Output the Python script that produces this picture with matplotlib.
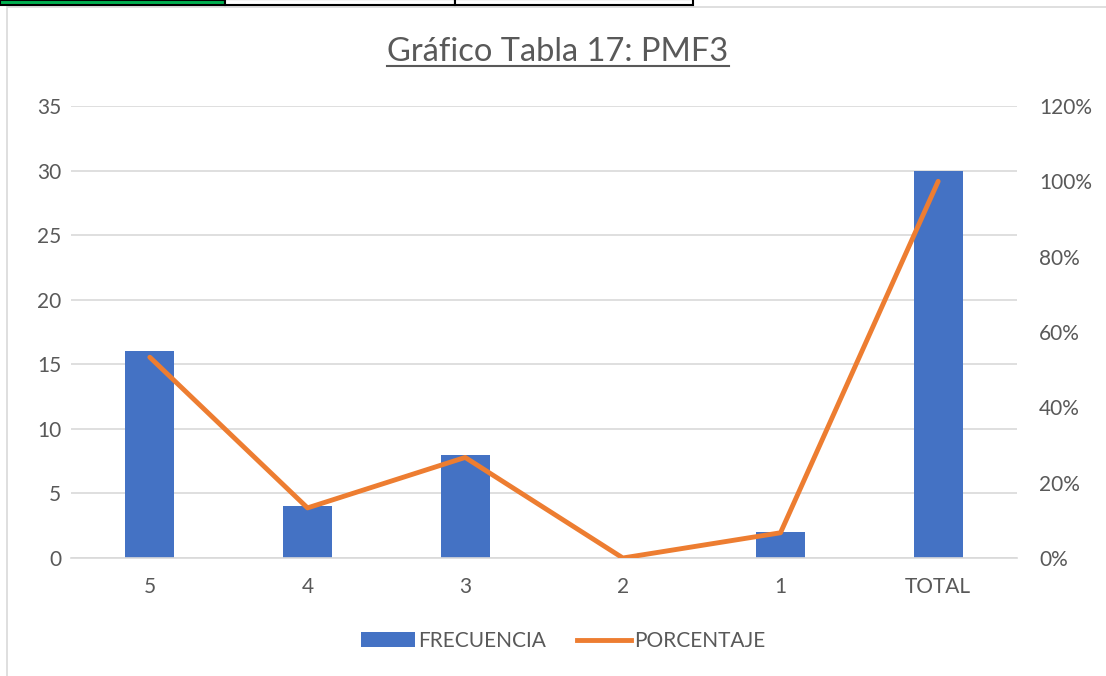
import matplotlib.pyplot as plt
from matplotlib.lines import Line2D
from matplotlib.patches import Rectangle, Patch
from matplotlib.ticker import FuncFormatter, MultipleLocator

categories = ["5", "4", "3", "2", "1", "TOTAL"]
frecuencia = [16, 4, 8, 0, 2, 30]
porcentaje = [0.533, 0.133, 0.267, 0.0, 0.067, 1.0]

title = "Gráfico Tabla 17: PMF3"
bar_color = "#4472C4"
line_color = "#ED7D31"
text_color = "#595959"
grid_color = "#D9D9D9"

plt.rcParams["font.family"] = ["Lato", "DejaVu Sans"]

fig = plt.figure(figsize=(11.06, 6.76), dpi=100)
W, H = 1106, 676

# chart frame and spreadsheet cells behind it
fig.patches.append(Rectangle((7 / W, -0.01), 1.2, (H - 7) / H + 0.01, transform=fig.transFigure,
                             fill=False, edgecolor="#D9D9D9", linewidth=1.2))
fig.patches.append(Rectangle((0, (H - 5) / H), 225 / W, 5 / H, transform=fig.transFigure,
                             facecolor="#00B050", edgecolor="black", linewidth=1.5))
for x0, x1 in [(225, 455), (455, 693)]:
    fig.patches.append(Rectangle((x0 / W, (H - 5) / H), (x1 - x0) / W, 6 / H, transform=fig.transFigure,
                                 facecolor="white", edgecolor="black", linewidth=1.5))

ax = fig.add_axes([71 / W, (H - 558) / H, (1017 - 71) / W, (558 - 106) / H])
ax2 = ax.twinx()

x = list(range(len(categories)))
ax.bar(x, frecuencia, width=0.31, color=bar_color, zorder=2)
ax.set_xlim(-0.5, len(categories) - 0.5)
ax.set_ylim(0, 35)
ax.yaxis.set_major_locator(MultipleLocator(5))
ax.set_xticks(x)
ax.set_xticklabels(categories)
ax.grid(axis="y", color=grid_color, linewidth=1.2, zorder=0)
ax.set_axisbelow(True)

ax2.plot(x, porcentaje, color=line_color, linewidth=3.5, solid_capstyle="round", zorder=3)
ax2.set_ylim(0, 1.2)
ax2.yaxis.set_major_locator(MultipleLocator(0.2))
ax2.yaxis.set_major_formatter(FuncFormatter(lambda v, p: f"{v * 100:.0f}%"))

for a in (ax, ax2):
    for s in a.spines.values():
        s.set_visible(False)
    a.tick_params(length=0, labelsize=15, colors=text_color)
ax.spines["bottom"].set_visible(True)
ax.spines["bottom"].set_color(grid_color)
ax.spines["bottom"].set_linewidth(1.2)
ax.tick_params(axis="y", pad=7)
ax.tick_params(axis="x", pad=14)
ax2.tick_params(axis="y", pad=16)

t = fig.text(558 / W, (H - 52) / H, title, ha="center", va="center", fontsize=23.5, color=text_color)
fig.canvas.draw()
bb = t.get_window_extent().transformed(fig.transFigure.inverted())
fig.add_artist(Line2D([bb.x0, bb.x1], [bb.y0 + 0.002, bb.y0 + 0.002], transform=fig.transFigure,
                      color=text_color, linewidth=1.5))

handles = [Patch(facecolor=bar_color), Line2D([0], [0], color=line_color, linewidth=3.5)]
fig.legend(handles, ["FRECUENCIA", "PORCENTAJE"], loc="center", bbox_to_anchor=(563 / W, (H - 641) / H),
           ncol=2, frameon=False, fontsize=15, labelcolor=text_color, handlelength=2.6,
           handletextpad=0.15, columnspacing=1.5)

fig.savefig("out.png", dpi=100)
